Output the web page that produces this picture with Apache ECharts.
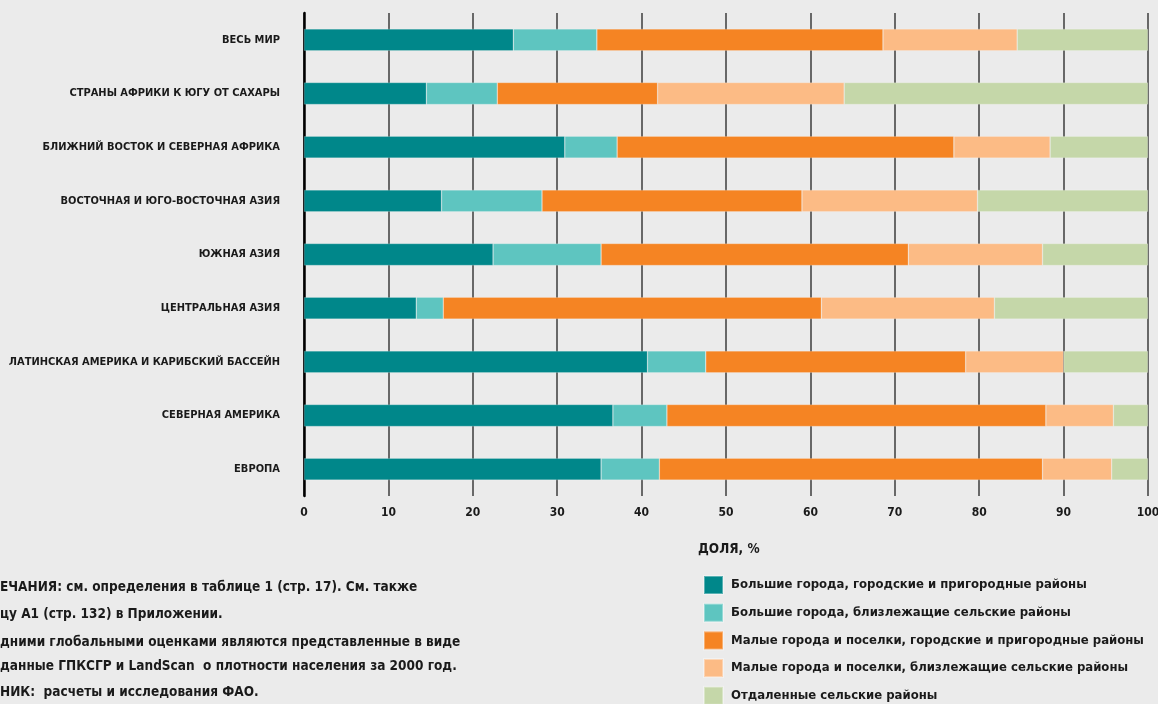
<!DOCTYPE html>
<html><head><meta charset="utf-8">
<script src="https://cdn.jsdelivr.net/npm/echarts@6/dist/echarts.min.js"></script>
<style>html,body{margin:0;padding:0;background:#ebebeb;}#c{width:1158px;height:704px;}</style>
</head><body><div id="c"></div>
<script>
const categories = ['ВЕСЬ МИР','СТРАНЫ АФРИКИ К ЮГУ ОТ САХАРЫ','БЛИЖНИЙ ВОСТОК И СЕВЕРНАЯ АФРИКА','ВОСТОЧНАЯ И ЮГО-ВОСТОЧНАЯ АЗИЯ','ЮЖНАЯ АЗИЯ','ЦЕНТРАЛЬНАЯ АЗИЯ','ЛАТИНСКАЯ АМЕРИКА И КАРИБСКИЙ БАССЕЙН','СЕВЕРНАЯ АМЕРИКА','ЕВРОПА'];
const seriesNames = ['Большие города, городские и пригородные районы','Большие города, близлежащие сельские районы','Малые города и поселки, городские и пригородные районы','Малые города и поселки, близлежащие сельские районы','Отдаленные сельские районы'];
const bigUrban   = [24.8, 14.5, 30.9, 16.3, 22.4, 13.3, 40.7, 36.6, 35.2];
const bigRural   = [ 9.9,  8.4,  6.2, 11.9, 12.8,  3.2,  6.9,  6.4,  6.9];
const smallUrban = [33.9, 19.0, 39.9, 30.8, 36.4, 44.8, 30.8, 44.9, 45.4];
const smallRural = [15.9, 22.1, 11.4, 20.8, 15.9, 20.5, 11.6,  8.0,  8.2];
const remote     = [15.5, 36.0, 11.6, 20.2, 12.5, 18.2, 10.0,  4.1,  4.3];
const xTicks = [0,10,20,30,40,50,60,70,80,90,100];
const axisTitle = 'ДОЛЯ, %';
const notes = ['ЕЧАНИЯ: см. определения в таблице 1 (стр. 17). См. также','цу А1 (стр. 132) в Приложении.','дними глобальными оценками являются представленные в виде','данные ГПКСГР и LandScan  о плотности населения за 2000 год.','НИК:  расчеты и исследования ФАО.'];

const colors = ['#00878a','#5ec5c0','#f58423','#fcbb85','#c5d7a9'];
const FONT = 'DejaVu Sans Condensed';
const values = [bigUrban, bigRural, smallUrban, smallRural, remote];
const chart = echarts.init(document.getElementById('c'), null, {renderer:'canvas'});
const noteY = [588, 615, 643, 667, 693];
chart.setOption({
  backgroundColor:'#ebebeb',
  animation:false,
  color: colors,
  textStyle:{fontFamily:FONT},
  grid:{left:304, right:10, top:13, bottom:208, containLabel:false, outerBoundsMode:'none'},
  xAxis:{type:'value', min:0, max:100, interval:10,
    axisLine:{show:false}, axisTick:{show:false},
    axisLabel:{color:'#1a1a1a', fontFamily:FONT, fontWeight:'bold', fontSize:12, margin:11,
      formatter: v => xTicks.includes(v) ? String(v) : ''},
    splitLine:{show:true, lineStyle:{color:'#3c3c3c', width:1.5}}},
  yAxis:{type:'category', data:categories, inverse:true,
    axisLine:{show:true, lineStyle:{color:'#000', width:2.5}}, axisTick:{show:false},
    axisLabel:{color:'#1a1a1a', fontFamily:FONT, fontWeight:'bold', fontSize:11, margin:24}},
  legend:{orient:'vertical', left:703, top:575, height:140, padding:0, itemWidth:19, itemHeight:18, itemGap:7.7,
    icon:'rect', data:seriesNames,
    textStyle:{color:'#1a1a1a', fontFamily:FONT, fontWeight:'bold', fontSize:13, lineHeight:18, padding:[0,0,0,3]}},
  graphic: [
    {type:'text', left:698, top:542, style:{text:axisTitle, fill:'#1a1a1a', font:'bold 13.5px '+FONT}}
  ].concat(notes.map((t,i)=>({type:'text', left:0, top:noteY[i]-8, style:{text:t, fill:'#1a1a1a', font:'bold 13.5px '+FONT}}))),
  series: seriesNames.map((n,i)=>({
    name:n, type:'bar', stack:'total', barWidth:22, data:values[i],
    itemStyle:{color:colors[i], borderColor:'rgba(255,255,255,0.35)', borderWidth:0.6}
  }))
});
</script></body></html>
